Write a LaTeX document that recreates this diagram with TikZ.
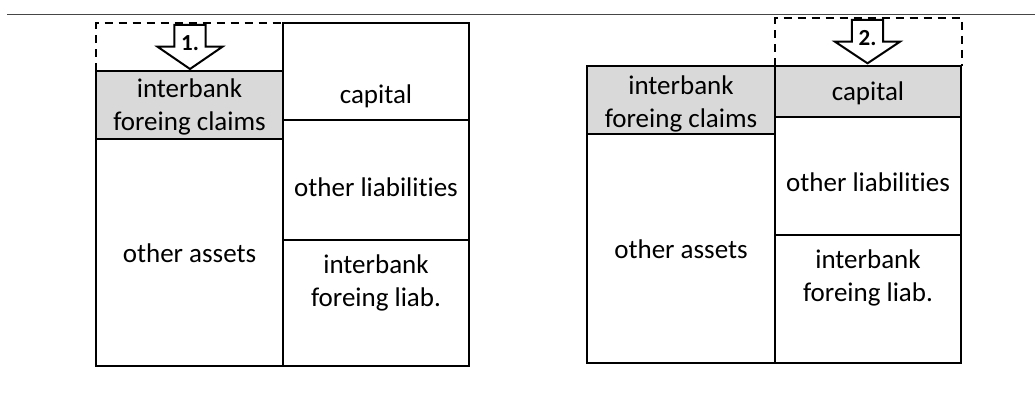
\documentclass[tikz,border=0pt]{standalone}
\usepackage{fontspec}
\setmainfont{Carlito}[RawFeature={-liga}]

\definecolor{shade}{RGB}{217,217,217}
\definecolor{rulegray}{RGB}{70,70,70}

\tikzset{
  cell/.style={draw, line width=2pt},
  dashbox/.style={line width=2pt, dash pattern=on 8pt off 6pt},
  blockarrow/.style={draw, fill=white, line width=2pt, line join=miter},
  txt/.style={align=center, inner sep=0pt, font=\fontsize{27}{33}\selectfont},
  num/.style={inner sep=0pt, font=\fontsize{23}{23}\selectfont\bfseries}
}

\begin{document}
\begin{tikzpicture}[x=1pt, y=-1pt]

\def\width{1035}
\def\height{398}

\path [use as bounding box] (0,0) rectangle (\width,\height);

% RULE
\draw [line width=1.5pt, rulegray] (7,14.5) -- (\width,14.5);

% FIRST SHEET
\def\lx{96}
\def\mx{283}
\def\rx{469}
\filldraw [cell, fill=shade] (\lx,70.7) rectangle (\mx,138.7);
\draw [cell] (\lx,138.7) rectangle (\mx,366);
\draw [cell] (\mx,23.3) rectangle (\rx,120);
\draw [cell] (\mx,120) rectangle (\rx,240);
\draw [cell] (\mx,240) rectangle (\rx,366);
\draw [dashbox] (\lx,70.7) -- (\lx,23.3) -- (\mx,23.3);
\filldraw [blockarrow] (190,25)
	+(-15.7,0) -- +(15.7,0) -- +(15.7,21.7) -- +(32.5,21.7) --
	+(0,44) -- +(-32.5,21.7) -- +(-15.7,21.7) -- cycle;
\node [num] (stepA) at (190,43) {1.};
\node [txt] (claimsA) at (189.5,107) {interbank\\foreing claims};
\node [txt] (capitalA) at (376,96) {capital};
\node [txt] (liabA) at (376,187) {other liabilities};
\node [txt] (assetsA) at (189.5,253) {other assets};
\node [txt] (ifliabA) at (376,283) {interbank\\foreing liab.};

% SECOND SHEET
\def\lx{587.3}
\def\mx{775}
\def\rx{961}
\filldraw [cell, fill=shade] (\lx,65.7) rectangle (\mx,134);
\draw [cell] (\lx,134) rectangle (\mx,363.3);
\filldraw [cell, fill=shade] (\mx,65.7) rectangle (\rx,117.3);
\draw [cell] (\mx,117.3) rectangle (\rx,235);
\draw [cell] (\mx,235) rectangle (\rx,363.3);
\draw [dashbox] (\mx,65.7) -- (\mx,18.3) -- (962,18.3) -- (962,65.7);
\filldraw [blockarrow] (867.5,20)
	+(-15.7,0) -- +(15.7,0) -- +(15.7,21.7) -- +(32.5,21.7) --
	+(0,43.3) -- +(-32.5,21.7) -- +(-15.7,21.7) -- cycle;
\node [num] (stepB) at (867.5,38) {2.};
\node [txt] (claimsB) at (681,104) {interbank\\foreing claims};
\node [txt] (capitalB) at (868,93) {capital};
\node [txt] (liabB) at (868,182) {other liabilities};
\node [txt] (assetsB) at (681,249) {other assets};
\node [txt] (ifliabB) at (868,278) {interbank\\foreing liab.};

\end{tikzpicture}
\end{document}
